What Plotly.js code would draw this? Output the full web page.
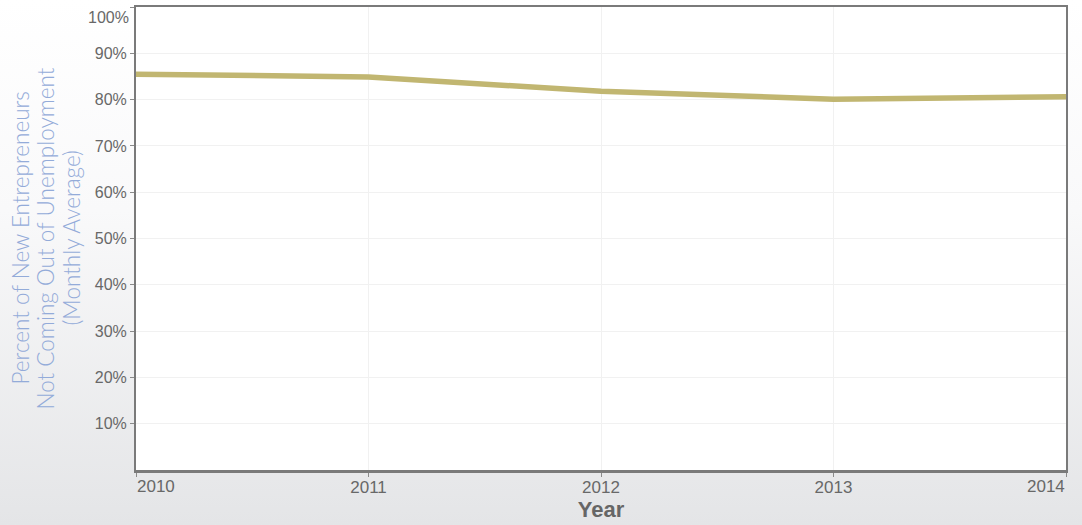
<!DOCTYPE html>
<html>
<head>
<meta charset="utf-8">
<script src="https://cdn.plot.ly/plotly-3.0.1.min.js"></script>
<style>
  html, body { margin:0; padding:0; width:1082px; height:525px; overflow:hidden;
    background: linear-gradient(to bottom, #ffffff 0%, #f9f9fa 40%, #e4e5e7 100%); }
  #chart { width:1082px; height:525px; }
</style>
</head>
<body>
<div id="chart"></div>
<script>
const years = [2010, 2011, 2012, 2013, 2014];
const pctNotFromUnemployment = [85.5, 84.9, 81.8, 80.1, 80.6];
const yTickVals = [10, 20, 30, 40, 50, 60, 70, 80, 90, 100];
const yTickText = ['10%', '20%', '30%', '40%', '50%', '60%', '70%', '80%', '90%', ''];
const xTickText = ['', '2011', '2012', '2013', ''];
const yTitleLines = ['Percent of New Entrepreneurs', 'Not Coming Out of Unemployment', '(Monthly Average)'];

const yTickFont = {family: 'Liberation Sans, Arial, sans-serif', size: 16, color: '#686868'};
const xTickFont = {family: 'Liberation Sans, Arial, sans-serif', size: 17, color: '#686868'};
const yTitleFont = {family: 'Lato, Open Sans, sans-serif', size: 22.5, color: '#93abd9', weight: 300};
const yTitleShifts = [-116, -91, -65];

const trace = {
  x: years, y: pctNotFromUnemployment, type: 'scatter', mode: 'lines',
  line: {color: '#c1b671', width: 5.5}, hoverinfo: 'skip'
};

const annotations = [
  {x: 2010, y: 0, xref: 'x', yref: 'y', text: '2010', showarrow: false,
   xanchor: 'left', yanchor: 'top', yshift: -5, xshift: -1, font: xTickFont},
  {x: 2014, y: 0, xref: 'x', yref: 'y', text: '2014', showarrow: false,
   xanchor: 'right', yanchor: 'top', yshift: -5, xshift: 1, font: xTickFont},
  {x: 0, y: 100, xref: 'paper', yref: 'y', text: '100%', showarrow: false,
   xanchor: 'right', yanchor: 'middle', xshift: -5, yshift: -10, font: yTickFont}
];
yTitleLines.forEach((t, i) => annotations.push({
  x: 0, y: 50, xref: 'paper', yref: 'y', text: t, showarrow: false,
  textangle: -90, xanchor: 'center', yanchor: 'middle', xshift: yTitleShifts[i],
  font: yTitleFont
}));

const layout = {
  width: 1082, height: 525,
  margin: {l: 136, r: 16, t: 7, b: 55},
  paper_bgcolor: 'rgba(0,0,0,0)',
  plot_bgcolor: '#ffffff',
  showlegend: false,
  xaxis: {
    range: [2010, 2014], tickvals: years, ticktext: xTickText,
    showgrid: true, gridcolor: '#f1f1f1', gridwidth: 1,
    showline: true, linecolor: '#7a7a7a', linewidth: 2.5, mirror: true,
    ticks: 'outside', ticklen: 4, tickcolor: '#8a8a8a', ticklabelstandoff: -4,
    tickfont: xTickFont, zeroline: false, fixedrange: true,
    title: {text: 'Year', font: {family: 'Liberation Sans, Arial, sans-serif', size: 22, color: '#666666', weight: 'bold'}, standoff: 4}
  },
  yaxis: {
    range: [0, 100], tickvals: yTickVals, ticktext: yTickText,
    showgrid: true, gridcolor: '#f1f1f1', gridwidth: 1,
    showline: true, linecolor: '#7a7a7a', linewidth: 2, mirror: true,
    ticks: 'outside', ticklen: 4, tickcolor: '#8a8a8a',
    tickfont: yTickFont, zeroline: false, fixedrange: true
  },
  annotations: annotations
};

Plotly.newPlot('chart', [trace], layout, {displayModeBar: false, staticPlot: true});
</script>
</body>
</html>
